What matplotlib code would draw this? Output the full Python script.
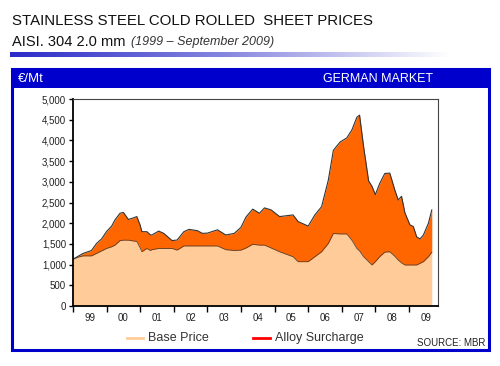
import matplotlib
matplotlib.use("Agg")
import matplotlib.pyplot as plt
import numpy as np
from matplotlib.patches import Rectangle
from matplotlib.lines import Line2D
from matplotlib.colors import LinearSegmentedColormap

plt.rcParams['font.family'] = ['Liberation Sans', 'DejaVu Sans']

# ---- data (decimal years, EUR/t) ----
years = [1999.00, 1999.15, 1999.30, 1999.55, 1999.70, 1999.85, 2000.00, 2000.15,
         2000.25, 2000.40, 2000.50, 2000.65, 2000.80, 2000.90, 2001.00, 2001.05,
         2001.20, 2001.30, 2001.35, 2001.55, 2001.70, 2001.95, 2002.10, 2002.30,
         2002.45, 2002.70, 2002.85, 2003.00, 2003.30, 2003.55, 2003.80, 2004.00,
         2004.15, 2004.35, 2004.55, 2004.70, 2004.90, 2005.15, 2005.55, 2005.70,
         2006.00, 2006.20, 2006.40, 2006.60, 2006.75, 2006.95, 2007.15, 2007.30,
         2007.45, 2007.53, 2007.65, 2007.80, 2007.90, 2008.00, 2008.13, 2008.28,
         2008.43, 2008.58, 2008.68, 2008.78, 2008.88, 2009.03, 2009.13, 2009.23,
         2009.33, 2009.43, 2009.58, 2009.68]
base_price = [1130, 1180, 1210, 1210, 1270, 1330, 1390, 1430,
              1470, 1580, 1590, 1590, 1570, 1560, 1400, 1310,
              1390, 1340, 1360, 1390, 1390, 1390, 1350, 1450,
              1450, 1450, 1450, 1450, 1450, 1360, 1340, 1350,
              1400, 1490, 1470, 1470, 1400, 1310, 1190, 1070,
              1070, 1190, 1310, 1510, 1750, 1740, 1740, 1590,
              1390, 1330, 1190, 1070, 990, 1070, 1190, 1300,
              1310, 1200, 1110, 1040, 990, 990, 990, 990,
              1030, 1070, 1190, 1300]
total_price = [1130, 1200, 1270, 1340, 1510, 1620, 1800, 1930,
               2080, 2240, 2260, 2090, 2130, 2160, 1950, 1795,
               1795, 1720, 1715, 1810, 1755, 1580, 1594, 1795,
               1850, 1820, 1755, 1760, 1840, 1715, 1755, 1900,
               2150, 2340, 2240, 2370, 2320, 2160, 2200, 2040,
               1930, 2200, 2400, 3040, 3760, 3960, 4060, 4250,
               4560, 4610, 3850, 3020, 2890, 2690, 2960, 3200,
               3210, 2800, 2560, 2650, 2250, 1960, 1920, 1670,
               1620, 1715, 2000, 2320]
alloy_surcharge = [t - b for t, b in zip(total_price, base_price)]

year_labels = ['99', '00', '01', '02', '03', '04', '05', '06', '07', '08', '09']
y_ticks = [0, 500, 1000, 1500, 2000, 2500, 3000, 3500, 4000, 4500, 5000]

base_col = '#FFCC99'
alloy_col = '#FF6600'
blue = '#0000CC'

W, H = 500, 366
fig = plt.figure(figsize=(W / 100, H / 100), dpi=100)
fig.patch.set_facecolor('white')

def fx(px):
    return px / W

def fy(py):
    return 1 - py / H

# titles
fig.text(fx(12), fy(21), 'STAINLESS STEEL COLD ROLLED  SHEET PRICES', fontsize=10.8,
         color='#111111', va='center', ha='left')
fig.text(fx(12), fy(41.5), 'AISI. 304 2.0 mm', fontsize=10.5, color='#111111',
         va='center', ha='left')
fig.text(fx(131), fy(42), '(1999 \u2013 September 2009)', fontsize=9, style='italic',
         color='#333333', va='center', ha='left')

# gradient bar
gax = fig.add_axes([fx(10), fy(57), fx(440), 5 / H])
grad = np.linspace(0, 1, 256)
cm = LinearSegmentedColormap.from_list('g', ['#2B2BC8', '#8888E0', '#FFFFFF'])
gax.imshow(grad[None, :], aspect='auto', cmap=cm, extent=[0, 1, 0, 1])
gax.set_axis_off()

# blue frame and header
fig.patches.append(Rectangle((fx(12), fy(350)), fx(477), (350 - 69) / H,
                             transform=fig.transFigure, facecolor='none',
                             edgecolor=blue, linewidth=2.2))
fig.patches.append(Rectangle((fx(12), fy(88)), fx(477), (88 - 69) / H,
                             transform=fig.transFigure, facecolor=blue,
                             edgecolor=blue, linewidth=0))
fig.text(fx(18), fy(79), '\u20ac/Mt', fontsize=9.5, color='white', va='center', ha='left')
fig.text(fx(433), fy(79), 'GERMAN MARKET', fontsize=9, color='white', va='center', ha='right')

# plot
ax = fig.add_axes([fx(73), fy(306), fx(437.5 - 73), (306 - 99) / H])
x = np.array(years)
b = np.array(base_price)
s = np.array(alloy_surcharge)
ax.fill_between(x, 0, b, color=base_col, linewidth=0)
ax.fill_between(x, b, b + s, color=alloy_col, linewidth=0)
ax.plot(x, b + s, color='#333333', linewidth=0.8)
ax.plot(x, b, color='#333333', linewidth=0.6, alpha=0.8)

ax.set_xlim(1999, 2009.85)
ax.set_ylim(0, 5000)
ax.set_yticks(y_ticks)
ax.set_yticklabels([f'{v:,}' for v in y_ticks], fontsize=7, color='#222222')
ax.set_xticks(np.arange(1999, 2010))
ax.set_xticklabels([])
ax.set_xticks(np.arange(1999.5, 2010), minor=True)
ax.set_xticklabels(year_labels, minor=True, fontsize=7, color='#222222')
ax.tick_params(axis='x', which='minor', length=0, pad=5)
ax.tick_params(axis='x', which='major', length=4, width=1, direction='out')
ax.tick_params(axis='y', length=3, width=1, direction='out', pad=2)
for sp in ['left', 'bottom']:
    ax.spines[sp].set_linewidth(1.3)
    ax.spines[sp].set_color('black')
for sp in ['top', 'right']:
    ax.spines[sp].set_linewidth(0.8)
    ax.spines[sp].set_color('#444444')

# legend
fig.lines.append(Line2D([fx(127), fx(143)], [fy(338), fy(338)], transform=fig.transFigure,
                        color=base_col, linewidth=2))
fig.text(fx(148), fy(338), 'Base Price', fontsize=9, color='#333333', va='center', ha='left')
fig.lines.append(Line2D([fx(253), fx(270)], [fy(338), fy(338)], transform=fig.transFigure,
                        color='#FF0000', linewidth=2))
fig.text(fx(275), fy(338), 'Alloy Surcharge', fontsize=9, color='#333333', va='center', ha='left')
fig.text(fx(485), fy(343), 'SOURCE: MBR', fontsize=7, color='#222222', va='center', ha='right')

fig.savefig('out.png', dpi=100, facecolor='white')
